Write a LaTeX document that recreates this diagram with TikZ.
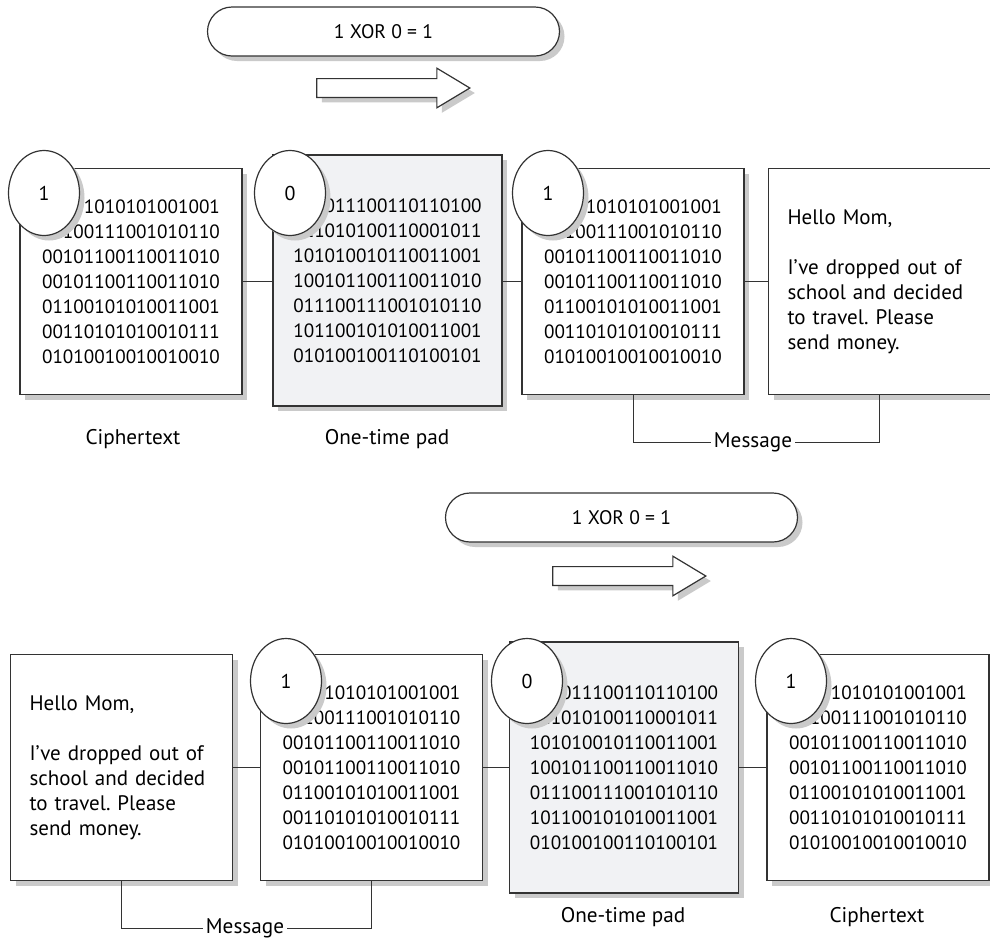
\documentclass[tikz,border=0pt]{standalone}
\usepackage{fontspec}
\setmainfont{PT Sans}
\frenchspacing
\usetikzlibrary{shapes.geometric,shapes.arrows,shadows}

\definecolor{padgray}{RGB}{241,242,244}
\definecolor{shadowgray}{RGB}{202,202,202}
\definecolor{edgegray}{RGB}{51,51,51}

% the two bit blocks
\newcommand{\cipherbits}{01101010101001001\\01100111001010110\\00101100110011010\\00101100110011010\\01100101010011001\\00110101010010111\\01010010010010010}
\newcommand{\padbits}{100011100110110100\\011010100110001011\\101010010110011001\\100101100110011010\\011100111001010110\\101100101010011001\\010100100110100101}
\newcommand{\momnote}{Hello Mom,\\[12.5pt]I’ve dropped out of\\school and decided\\to travel. Please\\send money.}

\tikzset{
  softshadow/.style={drop shadow={shadow xshift=2.5pt, shadow yshift=-2.5pt, fill=shadowgray, opacity=1}},
  bitbox/.style={draw=edgegray, line width=0.75pt, fill=white, rectangle, inner sep=0pt,
    minimum width=111pt, minimum height=113pt, align=left,
    font=\fontsize{9.6}{12.5}\selectfont, softshadow},
  padbox/.style={bitbox, fill=padgray, minimum width=114.5pt, minimum height=125.5pt},
  notebox/.style={bitbox, text width=92pt, inner xsep=9pt, font=\fontsize{10.5}{12.5}\selectfont},
  bitdisc/.style={ellipse, draw=edgegray, line width=0.6pt, fill=white, inner sep=0pt,
    minimum width=35.5pt, minimum height=42.5pt, font=\fontsize{10}{12}\selectfont, softshadow},
  xorpill/.style={draw=edgegray, line width=0.6pt, fill=white, rounded corners=12.25pt,
    minimum width=176pt, minimum height=24.5pt, font=\fontsize{9.8}{12}\selectfont, softshadow},
  fatarrow/.style={single arrow, draw=edgegray, line width=0.6pt, fill=white, inner xsep=0pt,
    inner ysep=4.4pt, minimum height=76.5pt, single arrow head extend=5.2pt,
    single arrow tip angle=62, softshadow},
  caption/.style={font=\fontsize{10.6}{12}\selectfont, inner sep=1.5pt},
  link/.style={draw=edgegray, line width=0.5pt},
}

\begin{document}
\begin{tikzpicture}[x=0.5pt, y=-0.5pt]
    \useasboundingbox (0,0) rectangle (990,938);

    % encryption
    \node[xorpill] (xor1) at (383.5,31.5) {1 XOR 0 = 1};
    \node[fatarrow] (push1) at (385.5,88) {};

    \node[bitbox] (ct1) at (131,281.5) {\cipherbits};
    \node[padbox] (pad1) at (387.5,280.5) {\padbits};
    \node[bitbox] (mb1) at (633,281.5) {\cipherbits};
    \node[notebox] (note1) at (879.5,281.5) {\momnote};

    \node[bitdisc] (d1) at (44,193) {1};
    \node[bitdisc] (d2) at (290,193) {0};
    \node[bitdisc] (d3) at (548,193) {1};

    \draw[link] (ct1.east) -- (ct1.east -| pad1.west);
    \draw[link] (mb1.west -| pad1.east) -- (mb1.west);
    \draw[link] (mb1.east) -- (note1.west);

    \node[caption] (ctlab1) at (133,439) {Ciphertext};
    \node[caption] (padlab1) at (387,439) {One-time pad};
    \node[caption] (msglab1) at (753,442) {Message};
    \draw[link] (mb1.south) |- (msglab1.west);
    \draw[link] (note1.south) |- (msglab1.east);

    % decryption
    \node[xorpill] (xor2) at (621.5,517.5) {1 XOR 0 = 1};
    \node[fatarrow] (push2) at (621.5,576) {};

    \node[notebox] (note2) at (121.5,767.5) {\momnote};
    \node[bitbox] (mb2) at (371.5,767.5) {\cipherbits};
    \node[padbox] (pad2) at (624,767.5) {\padbits};
    \node[bitbox] (ct2) at (878,767.5) {\cipherbits};

    \node[bitdisc] (d4) at (286,681) {1};
    \node[bitdisc] (d5) at (527,681) {0};
    \node[bitdisc] (d6) at (791,681) {1};

    \draw[link] (note2.east) -- (mb2.west);
    \draw[link] (mb2.east) -- (pad2.west);
    \draw[link] (pad2.east) -- (ct2.west);

    \node[caption] (padlab2) at (623,917) {One-time pad};
    \node[caption] (ctlab2) at (877,917) {Ciphertext};
    \node[caption] (msglab2) at (245,928) {Message};
    \draw[link] (note2.south) |- (msglab2.west);
    \draw[link] (mb2.south) |- (msglab2.east);
\end{tikzpicture}
\end{document}
